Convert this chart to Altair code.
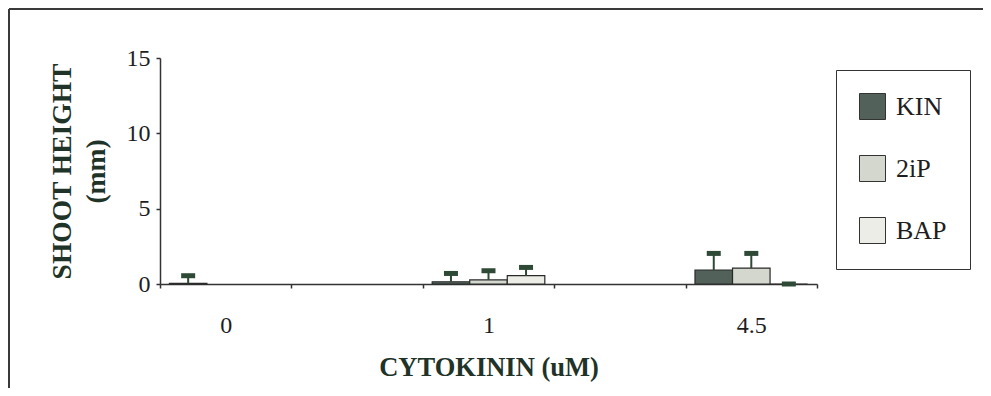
import altair as alt
import pandas as pd

# ---- data ----
categories = ["0", "1", "4.5"]            # cytokinin concentration (uM)
series = ["KIN", "2iP", "BAP"]
kin_mean = [0.05, 0.15, 0.93]
kin_err = [0.50, 0.55, 1.10]
ip_mean = [None, 0.27, 1.06]
ip_err = [None, 0.61, 0.97]
bap_mean = [None, 0.55, 0.0]
bap_err = [None, 0.55, 0.0]
y_ticks = [0, 5, 10, 15]

colors = ["#52625a", "#d3d7cd", "#ecede6"]
FONT = "Liberation Serif"
INK = "#2a2a2a"

rows = []
for s, means, errs in zip(series, [kin_mean, ip_mean, bap_mean], [kin_err, ip_err, bap_err]):
    for c, m, e in zip(categories, means, errs):
        if m is not None:
            rows.append({"conc": c, "cyt": s, "mean": m, "top": m + e})
df = pd.DataFrame(rows)

# spacer slots between the labelled concentrations, as on the original axis
x_domain = ["0", " ", "1", "  ", "4.5"]

x_enc = alt.X(
    "conc:N",
    sort=x_domain,
    scale=alt.Scale(domain=x_domain, paddingInner=0, paddingOuter=0),
    axis=alt.Axis(
        title="CYTOKININ (uM)",
        labelAngle=0,
        tickBand="extent",
        tickSize=4,
        labelPadding=25,
        titlePadding=17,
        titleFontSize=26.5,
    ),
)
xoff = alt.XOffset("cyt:N", scale=alt.Scale(domain=series, paddingInner=0, paddingOuter=0.25))
y_scale = alt.Scale(domain=[0, 15], nice=False)

bars = alt.Chart(df).mark_bar(stroke=INK, strokeWidth=1.2).encode(
    x=x_enc,
    xOffset=xoff,
    y=alt.Y(
        "mean:Q",
        scale=y_scale,
        axis=alt.Axis(
            values=y_ticks,
            title=["SHOOT HEIGHT", "(mm)"],
            tickSize=4,
            labelPadding=6,
            titlePadding=16,
            titleFontSize=27.5,
            titleLineHeight=34,
            grid=False,
        ),
    ),
    fill=alt.Fill(
        "cyt:N",
        scale=alt.Scale(domain=series, range=colors),
        legend=alt.Legend(
            orient="none",
            legendX=676,
            legendY=12,
            title=None,
            strokeColor="#333333",
            padding=23,
            rowPadding=31,
            symbolType="square",
            symbolSize=676,
            symbolStrokeColor="#333333",
            symbolStrokeWidth=1,
            symbolOpacity=1,
            labelFont=FONT,
            labelFontSize=26,
            labelColor="#1e1e1e",
            labelOffset=10,
        ),
    ),
)

err_rules = alt.Chart(df).mark_rule(color="#2e4a37", strokeWidth=2).encode(
    x=alt.X("conc:N", sort=x_domain), xOffset=xoff,
    y=alt.Y("mean:Q", scale=y_scale), y2="top:Q",
)
caps = alt.Chart(df).mark_tick(color="#2e4a37", size=14, thickness=5, opacity=1).encode(
    x=alt.X("conc:N", sort=x_domain), xOffset=xoff,
    y=alt.Y("top:Q", scale=y_scale),
)

frame_df = pd.DataFrame({"k": [0]})
frame_left = alt.Chart(frame_df).mark_rule(color="#3a3a3a", strokeWidth=2).encode(
    x=alt.value(-151), y=alt.value(-49), y2=alt.value(340)
)
frame_top = alt.Chart(frame_df).mark_rule(color="#3a3a3a", strokeWidth=2).encode(
    x=alt.value(-151), x2=alt.value(830), y=alt.value(-49)
)

chart = (
    alt.layer(frame_left, frame_top, bars, err_rules, caps)
    .properties(
        width=657,
        height=226,
        autosize=alt.AutoSizeParams(type="none"),
        padding={"left": 152, "top": 50, "right": 166, "bottom": 104},
    )
    .configure_view(stroke=None)
    .configure_axis(
        labelFont=FONT,
        labelFontSize=24,
        labelColor="#1e1e1e",
        titleFont=FONT,
        titleFontWeight="bold",
        titleColor="#1f3328",
        domainColor="#333333",
        domainWidth=1.5,
        tickColor="#333333",
        tickWidth=1.5,
    )
)

chart.save("out.html", embed_options={"renderer": "svg", "actions": False})
